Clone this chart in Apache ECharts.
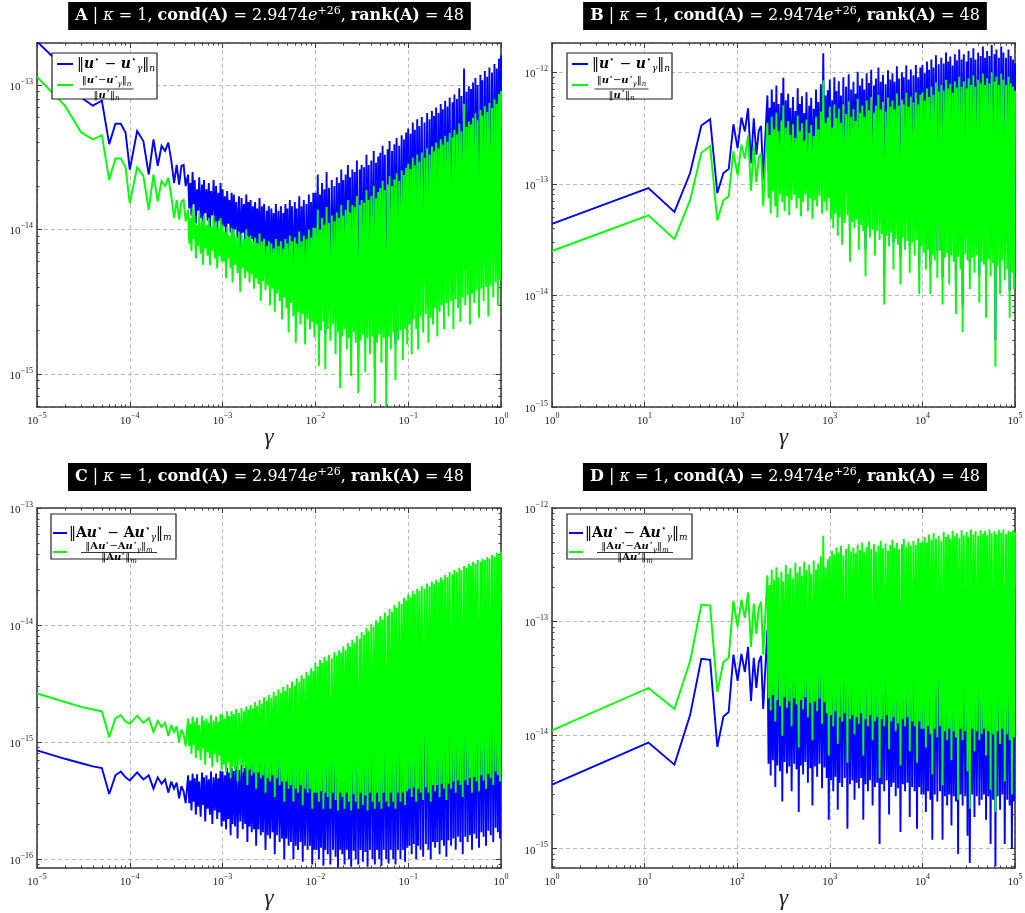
<!DOCTYPE html>
<html><head><meta charset="utf-8">
<script src="https://cdn.jsdelivr.net/npm/echarts@6/dist/echarts.min.js"></script>
<style>html,body{margin:0;padding:0;background:#fff}#c{width:1025px;height:913px}</style>
</head><body><div id="c"></div>
<script>
// ---------------- DATA ----------------
const U = 1e-15;   // all series values below are in units of 1e-15
const GA = 1e-5;   // gamma unit for panels A and C
// R80 preferred-number mantissas: sample positions inside each decade of the dense part
const R80 = [1.00,1.03,1.06,1.09,1.12,1.15,1.18,1.22,1.25,1.28,1.32,1.36,1.40,1.45,1.50,1.55,1.60,1.65,1.70,1.75,1.80,1.85,1.90,1.95,
 2.00,2.06,2.12,2.18,2.24,2.30,2.36,2.43,2.50,2.58,2.65,2.72,2.80,2.90,3.00,3.07,3.15,3.25,3.35,3.45,3.55,3.65,3.75,3.87,
 4.00,4.12,4.25,4.37,4.50,4.62,4.75,4.87,5.00,5.15,5.30,5.45,5.60,5.80,6.00,6.15,6.30,6.50,6.70,6.90,7.10,7.30,7.50,7.75,
 8.00,8.25,8.50,8.75,9.00,9.25,9.50,9.75];
const AC_gamma_sparse = [1,2,3,4,5,6,7,8,9,10,12,14,16,18,20,22,24,26,28,30,32,34,36,38,40];
const BD_gamma_sparse = [1,11,21,31,41,51,61,71,81,91,101,111,121,131,141,151,161,171,181,191,201];

const A_blue = [200,130,82,72,78,39,54,54,47,26,48,41,24,42,27.6,38,35,40,30,21,28,20.5,27.6,28,20,
 24,14,21,12.5,25,15,22,11,19,13.5,23,12,20.5,10,22,13,19,11.5,21,10,18.5,12.5,22,11,20,9.5,18,11.5,21,10.5,
 19,10.5,17,8,18.5,11,16,9.5,18,7.5,17.5,10,15.5,8.8,17,6.5,16.5,9.5,15,8,17.5,9,
 15.5,7.5,16,8.6,14.5,6.8,15.5,8,14,7.4,16.5,5.6,14.5,7.8,15,6.6,
 13.5,7.2,14.5,5.2,14,6.8,13,4.8,15,6.4,13.5,5.6,14.5,4.2,13,6.0,15,5.0,
 14,3.4,16,5.4,14.5,4.4,15.5,2.9,14,4.8,17,3.8,14.5,4.6,16,2.8,
 15,4.2,17.5,3.6,15.5,4.0,18,3.2,
 18,3.8,24,2.0,17.5,3.5,21,4.0,19,1.9,25,3.6,19.5,3.0,22,3.8,20,2.4,23,3.4,21,1.4,
 26,3.2,22,3.6,24,2.6,28,3.1,23,1.7,26,3.4,25,2.9,30,1.3,
 26,3.0,28,3.3,27,1.8,33,3.1,28,2.4,30,3.2,35,1.1,29,2.9,32,3.3,
 34,2.1,38,3.1,33,1.05,36,3.2,41,2.6,35,3.4,39,1.6,43,3.0,
 38,3.5,45,2.2,42,3.6,47,2.8,
 50,3.9,46,2.4,55,4.2,49,3.6,58,2.6,52,4.4,60,3.4,55,4.6,64,2.9,58,4.3,66,3.8,
 61,5.0,70,3.2,64,4.8,74,5.2,68,3.6,78,5.4,71,4.4,82,5.6,
 76,3.6,86,5.8,80,5.0,95,4.0,84,6.0,130,5.2,90,6.2,98,3.9,94,6.4,
 104,5.4,112,6.6,100,4.3,118,6.8,108,5.6,125,7.0,114,4.4,132,7.2,
 122,5.9,140,7.6,130,5.3,152,7.9,
 160];
const A_green = [114,72,47,42,45,22,31,31,27,15.2,27,23.5,13.7,24,15.7,21.7,20,22.8,17,12,16,11.7,15.7,16,11.4,
 13.7,8.0,12.0,7.1,14.3,8.6,12.5,6.3,10.8,7.7,13.1,6.8,11.7,5.7,12.5,7.4,10.8,6.6,12.0,5.7,10.5,7.1,12.5,6.3,11.4,5.4,10.3,6.6,12.0,6.0,
 10.8,6.0,9.7,4.6,10.5,6.3,9.1,5.4,10.3,4.3,10.0,5.7,8.8,5.0,9.7,3.7,9.4,5.4,8.6,4.6,10.0,5.1,
 8.8,4.3,9.1,4.9,8.3,3.9,8.8,4.6,8.0,4.2,9.4,3.2,8.3,4.4,8.6,3.8,
 7.7,4.1,8.3,3.0,8.0,3.9,7.4,2.7,8.6,3.6,7.7,3.2,8.3,2.4,7.4,3.4,8.6,2.85,
 8.0,1.94,9.1,3.1,8.3,2.5,8.8,1.65,8.0,2.7,9.7,2.2,8.3,2.6,9.1,1.6,
 8.6,2.4,10.0,2.05,8.8,2.3,10.3,1.8,
 10.3,2.2,13.7,1.14,10.0,2.0,12.0,2.3,10.8,1.08,14.3,2.05,11.1,1.7,12.5,2.2,11.4,1.37,13.1,1.94,12.0,0.8,
 14.8,1.82,12.5,2.05,13.7,1.48,16.0,1.77,13.1,0.97,14.8,1.94,14.3,1.65,17.1,0.74,
 14.8,1.71,16.0,1.88,15.4,1.03,18.8,1.77,16.0,1.37,17.1,1.82,20.0,0.63,16.5,1.65,18.2,1.88,
 19.4,1.2,21.7,1.77,18.8,0.6,20.5,1.82,23.4,1.48,20.0,1.94,22.2,0.91,24.5,1.71,
 21.7,2.0,25.7,1.25,23.9,2.05,26.8,1.6,
 28.5,2.2,26.2,1.37,31.4,2.4,27.9,2.05,33.1,1.48,29.6,2.5,34.2,1.94,31.4,2.6,36.5,1.65,33.1,2.45,37.6,2.2,
 34.8,2.85,39.9,1.82,36.5,2.7,42.2,3.0,38.8,2.05,44.5,3.1,40.5,2.5,46.7,3.2,
 43.3,2.05,49.0,3.3,45.6,2.85,54.2,2.3,47.9,3.4,74.1,3.0,51.3,3.5,55.9,2.2,53.6,3.6,
 59.3,3.1,63.8,3.8,57.0,2.45,67.3,3.9,61.6,3.2,71.3,4.0,65.0,2.5,75.2,4.1,
 69.5,3.4,79.8,4.3,74.1,3.0,86.6,4.5,
 91];

const B_blue = [43.8,91.6,56,125,333,380,82.6,125,135.5,342,209,393,295,475,153,387,182,300,330,110,260,
 620,130,480,95,700,150,540,110,760,88,520,140,650,120,890,100,560,135,640,92,480,125,600,140,450,105,720,130,520,90,610,120,430,140,660,100,500,130,590,85,470,125,700,110,540,135,780,95,1480,120,620,100,690,130,
 860,85,560,70,900,95,680,60,830,88,620,50,900,78,740,92,960,35,700,80,820,70,
 640,84,1010,45,760,75,880,66,700,26,980,72,800,58,1050,68,
 760,40,880,66,1100,55,820,62,950,14.5,780,60,1040,48,860,64,980,30,
 820,56,1130,50,880,22,1000,58,900,45,1150,54,860,28,1060,52,
 940,40,1160,55,900,18,1100,48,
 1160,42,980,30,1250,45,1050,18,1300,40,1100,36,1420,25,1180,44,1350,14.5,1200,38,1500,42,
 1250,22,1380,40,1150,35,1450,12,1280,39,1600,30,1300,8.2,1450,41,
 1250,36,1550,20,1350,38,1640,28,1300,40,1500,15,1400,35,1700,33,1350,11,
 1550,37,1400,26,1750,34,1450,4.0,1600,32,1350,18,1700,36,1500,24,
 1350,30,1600,11,1400,28,1300,20,
 1200];
const B_green = [25,52.2,31.9,71.3,190,217,47.1,71.3,77.2,195,119,224,168,271,87,221,104,171,188,63,148,
 353,74,274,54,399,85.5,308,62.7,433,50,296,80,370,68.4,507,57,319,77,365,52.4,274,71.3,342,80,257,60,410,74,296,51.3,348,68.4,245,80,376,57,285,74,336,48.5,268,71.3,399,62.7,308,77,445,54,844,68.4,353,57,393,74,
 490,48.5,319,40,513,54,388,34.2,473,50,353,28.5,513,44.5,422,52.4,547,20,399,45.6,467,40,
 365,47.9,576,25.7,433,42.8,502,37.6,399,14.8,559,41,456,33,599,38.8,
 433,22.8,502,37.6,627,31.4,467,35.3,542,8.3,445,34.2,593,27.4,490,36.5,559,17.1,
 467,31.9,644,28.5,502,12.5,570,33,513,25.7,656,30.8,490,16,604,29.6,
 536,22.8,661,31.4,513,10.3,627,27.4,
 661,24,559,17.1,713,25.7,599,10.3,741,22.8,627,20.5,809,14.3,673,25.1,770,8.3,684,21.7,855,24,
 713,12.5,787,22.8,656,20,827,6.8,730,22.2,912,17.1,741,4.7,827,23.4,
 713,20.5,884,11.4,770,21.7,935,16,741,22.8,855,8.6,798,20,969,18.8,770,6.3,
 884,21.1,798,14.8,998,19.4,827,2.3,912,18.2,770,10.3,969,20.5,855,13.7,
 770,17.1,912,6.3,798,16,741,11.4,
 684];

const C_blue = [0.85,0.72,0.66,0.62,0.60,0.36,0.52,0.56,0.50,0.47,0.55,0.48,0.52,0.40,0.50,0.44,0.48,0.37,0.46,0.40,0.45,0.33,0.42,0.38,0.30,
 0.52,0.30,0.47,0.26,0.54,0.31,0.49,0.24,0.53,0.28,0.46,0.23,0.55,0.29,0.5,0.21,0.52,0.27,0.48,0.24,0.56,0.2,0.5,0.26,0.54,0.22,0.49,0.25,0.57,0.19,
 .56,.21,.52,.18,.6,.22,.55,.16,.6,.2,.57,.19,.63,.15,.58,.21,.64,.18,.6,.2,.66,.14,
 .62,.19,.68,.17,.64,.18,.72,.13,.67,.18,.75,.16,.7,.17,.79,.12,
 .74,.16,.83,.15,.78,.17,.88,.11,.82,.16,.92,.14,.86,.15,.97,.1,.9,.15,
 1.02,.13,.95,.14,1.08,.1,1.0,.13,1.15,.12,1.07,.14,1.22,.095,1.14,.13,
 1.3,.12,1.22,.13,1.4,.09,1.32,.12,
 1.55,.12,1.45,.1,1.65,.125,1.55,.088,1.75,.12,1.62,.11,1.82,.09,1.7,.12,1.92,.105,1.8,.085,2.0,.12,
 1.9,.11,2.15,.09,2.0,.12,2.3,.1,2.15,.086,2.45,.118,2.3,.1,2.65,.09,
 2.5,.12,2.85,.095,2.7,.115,3.1,.086,2.9,.12,3.35,.1,3.15,.09,3.6,.12,3.4,.1,
 3.9,.088,3.65,.12,4.2,.1,3.95,.092,4.5,.12,4.25,.1,4.85,.09,4.6,.12,
 5.2,.1,4.95,.12,5.6,.095,5.3,.125,
 6.0,.13,5.7,.11,6.4,.135,6.0,.1,6.7,.13,6.4,.12,7.0,.105,6.7,.135,7.4,.12,7.0,.1,7.7,.14,
 7.3,.125,8.0,.14,7.6,.11,8.4,.145,8.0,.13,8.8,.105,8.4,.145,9.3,.13,
 8.9,.15,9.7,.12,9.3,.155,10.1,.14,9.7,.11,10.5,.155,10.1,.14,11.0,.16,10.5,.12,
 11.4,.165,11.0,.15,11.8,.125,11.4,.17,12.1,.155,11.8,.13,12.5,.175,12.1,.16,
 13.0,.14,12.6,.185,13.6,.17,13.0,.15,
 14];
const C_green = [2.6,2.2,2.0,1.9,1.83,1.1,1.6,1.7,1.5,1.43,1.68,1.46,1.6,1.22,1.52,1.34,1.46,1.13,1.4,1.22,1.37,1.0,1.28,1.16,0.92,
 1.59,0.92,1.43,0.79,1.65,0.95,1.49,0.73,1.62,0.85,1.4,0.7,1.68,0.88,1.53,0.64,1.59,0.82,1.46,0.73,1.71,0.61,1.53,0.79,1.65,0.67,1.49,0.76,1.74,0.58,
 1.71,.64,1.59,.55,1.83,.67,1.68,.49,1.83,.61,1.74,.58,1.92,.46,1.77,.64,1.95,.55,1.83,.61,2.01,.43,
 1.89,.58,2.07,.52,1.95,.55,2.2,.4,2.04,.55,2.29,.49,2.14,.52,2.41,.37,
 2.26,.49,2.53,.46,2.38,.52,2.68,.34,2.5,.49,2.81,.43,2.62,.46,2.96,.31,2.75,.46,
 3.11,.4,2.9,.43,3.29,.31,3.05,.4,3.51,.37,3.26,.43,3.72,.29,3.48,.4,
 3.97,.37,3.72,.4,4.27,.27,4.03,.37,
 4.73,.37,4.42,.31,5.03,.38,4.73,.27,5.34,.37,4.94,.34,5.55,.27,5.19,.37,5.86,.32,5.49,.26,6.1,.37,
 5.8,.34,6.56,.27,6.1,.37,7.02,.31,6.56,.26,7.47,.36,7.02,.31,8.08,.27,
 7.63,.37,8.69,.29,8.24,.35,9.46,.26,8.85,.37,10.2,.31,9.61,.27,11.0,.37,10.4,.31,
 11.9,.27,11.1,.37,12.8,.31,12.0,.28,13.7,.37,13.0,.31,14.8,.27,14.0,.37,
 15.9,.31,15.1,.37,17.1,.29,16.2,.38,
 18.3,.4,17.4,.34,19.5,.41,18.3,.31,20.4,.4,19.5,.37,21.4,.32,20.4,.41,22.6,.37,21.4,.31,23.5,.43,
 22.3,.38,24.4,.43,23.2,.34,25.6,.44,24.4,.4,26.8,.32,25.6,.44,28.4,.4,
 27.1,.46,29.6,.37,28.4,.47,30.8,.43,29.6,.34,32.0,.47,30.8,.43,33.6,.49,32.0,.37,
 34.8,.5,33.6,.46,36.0,.38,34.8,.52,36.9,.47,36.0,.4,38.1,.53,36.9,.49,
 39.7,.43,38.4,.56,41.5,.52,39.7,.46,
 42.7];

const D_blue = [3.66,8.6,5.5,15,47,46,7.9,14.6,16,51,30,52,36,60,20,48,26,44,50,17,38,
 85,5.6,70,4.4,95,6.0,78,3.5,100,5.4,82,4.8,92,2.6,75,5.8,105,4.6,88,5.3,98,3.2,80,5.6,110,5.0,90,2.1,102,5.4,84,4.5,112,5.8,95,3.8,106,5.1,88,2.4,115,5.3,96,4.3,108,5.6,125,3.4,190,5.2,100,4.2,118,1.8,
 125,4.0,140,3.2,130,4.3,150,2.2,135,3.8,155,3.5,128,4.2,145,1.5,160,3.7,138,4.0,150,2.7,
 133,3.8,158,3.4,142,4.2,165,1.8,136,3.7,152,3.2,170,4.0,145,2.4,
 160,3.5,138,3.8,155,1.1,172,3.7,148,3.2,162,4.0,140,2.0,158,3.5,175,3.8,
 150,2.9,165,3.4,145,1.4,160,3.7,178,3.2,152,3.8,168,1.9,155,3.5,
 172,3.2,158,1.5,180,3.5,165,3.0,
 170,3.0,185,2.1,165,3.2,195,2.7,175,1.2,200,3.0,180,2.6,190,3.2,172,1.2,205,2.9,
 185,2.4,195,3.0,178,1.6,210,2.9,188,2.6,200,0.9,182,3.0,212,2.4,192,2.9,205,1.3,
 186,0.75,215,3.0,195,1.9,208,2.9,190,2.4,212,2.7,198,3.0,210,1.8,192,2.9,215,1.1,
 200,2.7,208,0.7,195,2.9,213,2.2,202,3.0,215,1.1,198,2.7,210,2.4,205,1.0,212,2.6,
 205];
const D_green = [11,26,17,45,141,138,24,44,48,153,90,156,108,180,60,144,78,132,150,51,114,
 255,21,210,16.5,285,22.5,234,13.2,300,20.4,246,18,276,9.9,225,21.6,315,17.4,264,19.8,294,12,240,21,330,18.6,270,7.8,306,20.4,252,16.8,336,21.6,285,14.4,318,19.2,264,9,345,19.8,288,16.2,324,21,375,12.6,570,19.5,300,15.6,354,6.6,
 375,15,420,12,390,16.2,450,8.4,405,14.4,465,13.2,384,15.6,435,5.7,480,13.8,414,15,450,10.2,
 399,14.4,474,12.6,426,15.6,495,6.6,408,13.8,456,12,510,15,435,9,
 480,13.2,414,14.4,465,4.2,516,13.8,444,12,486,15,420,7.5,474,13.2,525,14.4,
 450,10.8,495,12.6,435,5.4,480,13.8,534,12,456,14.4,504,7.2,465,13.2,
 516,12,474,5.7,540,13.2,495,11.4,
 510,11.4,555,7.8,495,12,585,10.2,525,4.5,600,11.4,540,9.6,570,12,516,3.6,615,10.8,
 555,9,585,11.4,534,6,630,10.8,564,9.6,600,2.7,546,11.4,636,9,576,10.8,615,4.8,
 558,2.25,645,11.4,585,7.2,624,10.8,570,9,636,10.2,594,11.4,630,6.6,576,10.8,645,3.3,
 600,10.2,624,2.1,585,10.8,639,8.4,606,11.4,645,3.9,594,10.2,630,9,615,3,636,9.6,
 615];

const TITLE_LETTERS = ['A','B','C','D'];
const MINOR_M = [2,3,4,5,6,7,8,9];

// ---------------- BUILD ----------------
const AC_gamma = [...AC_gamma_sparse, ...R80.slice(50).map(m=>m*10), ...R80.map(m=>m*100), ...R80.map(m=>m*1000), ...R80.map(m=>m*10000), 100000].map(v=>v*GA);
const BD_gamma = [...BD_gamma_sparse, ...R80.slice(26).map(m=>m*100), ...R80.map(m=>m*1000), ...R80.map(m=>m*10000), 100000];

function pts(xs, ys){ const n=Math.min(xs.length,ys.length); const o=[]; for(let i=0;i<n;i++) o.push([xs[i], ys[i]*U]); return o; }

const FONT = "'Liberation Serif','DejaVu Serif',serif";
const DFONT = "'DejaVu Serif',serif";
const FRAME = '#3c3c3c';
const BLUE = '#0000ff', GREEN = '#00ff00';
const LW = 1.9;

function tickFmt(v){ const e=Math.round(Math.log10(v)); return '{b|10}{e|'+(e<0?'\u2212'+(-e):e)+'}'; }
const tickRich = {
  b:{fontFamily:FONT,fontSize:11,color:'#222',lineHeight:15,verticalAlign:'bottom'},
  e:{fontFamily:FONT,fontSize:8,color:'#222',lineHeight:9,verticalAlign:'top'}
};
function minorTicks(d0,d1){ const o=[]; for(let d=d0; d<=d1; d++) for(const m of MINOR_M) o.push(m*Math.pow(10,d)); return o; }

const panels = [
  {grid:{left:37,top:43,width:464,height:364}, x:[1e-5,1], y:[5.92e-16,1.954e-13], hideMin:true, hideMax:true, xm:[-5,-1], ym:[-16,-13], gam:AC_gamma, blue:A_blue, green:A_green},
  {grid:{left:552,top:43,width:463,height:364}, x:[1,1e5], y:[1e-15,1.828e-12], hideMin:false, hideMax:true, xm:[0,4], ym:[-15,-12], gam:BD_gamma, blue:B_blue, green:B_green},
  {grid:{left:37,top:508,width:464,height:360}, x:[1e-5,1], y:[8.4e-17,1e-13], hideMin:true, hideMax:false, xm:[-5,-1], ym:[-17,-14], gam:AC_gamma, blue:C_blue, green:C_green},
  {grid:{left:552,top:508,width:463,height:360}, x:[1,1e5], y:[6.76e-16,1e-12], hideMin:true, hideMax:false, xm:[0,4], ym:[-16,-13], gam:BD_gamma, blue:D_blue, green:D_green}
];

const grids=[], xAxes=[], yAxes=[], series=[];
panels.forEach((p,g)=>{
  grids.push(Object.assign({containLabel:false, outerBoundsMode:'none'}, p.grid));
  const xb = {gridIndex:g, type:'log', logBase:10, min:p.x[0], max:p.x[1]};
  const yb = {gridIndex:g, type:'log', logBase:10, min:p.y[0], max:p.y[1]};
  const line = {show:true,onZero:false,lineStyle:{color:FRAME,width:1.6}};
  const maj = {show:true,inside:true,length:5,lineStyle:{color:FRAME,width:1}};
  const split = {show:true,lineStyle:{color:'#bcbcbc',type:[4,3],width:1}};
  const noLab = {show:false}, noSplit={show:false};
  const minX = {show:true,inside:true,length:2.5,customValues:minorTicks(p.xm[0],p.xm[1]),lineStyle:{color:FRAME,width:1}};
  const minY = {show:true,inside:true,length:2.5,customValues:minorTicks(p.ym[0],p.ym[1]),lineStyle:{color:FRAME,width:1}};
  xAxes.push(Object.assign({}, xb, {position:'bottom', axisLine:line, axisTick:maj,
    axisLabel:{show:true,formatter:tickFmt,rich:tickRich,margin:5}, splitLine:split,
    name:'\u03b3', nameLocation:'middle', nameGap:19, nameMoveOverlap:false,
    nameTextStyle:{fontFamily:FONT,fontStyle:'italic',fontSize:23,color:'#222'}}));
  xAxes.push(Object.assign({}, xb, {position:'top', axisLine:line, axisTick:maj, axisLabel:noLab, splitLine:noSplit}));
  xAxes.push(Object.assign({}, xb, {position:'bottom', axisLine:{show:false}, axisTick:minX, axisLabel:noLab, splitLine:noSplit}));
  xAxes.push(Object.assign({}, xb, {position:'top', axisLine:{show:false}, axisTick:minX, axisLabel:noLab, splitLine:noSplit}));
  yAxes.push(Object.assign({}, yb, {position:'left', axisLine:line, axisTick:maj,
    axisLabel:{show:true,formatter:tickFmt,rich:tickRich,margin:4,showMinLabel:!p.hideMin,showMaxLabel:!p.hideMax}, splitLine:split}));
  yAxes.push(Object.assign({}, yb, {position:'right', axisLine:line, axisTick:maj, axisLabel:noLab, splitLine:noSplit}));
  yAxes.push(Object.assign({}, yb, {position:'left', axisLine:{show:false}, axisTick:minY, axisLabel:noLab, splitLine:noSplit}));
  yAxes.push(Object.assign({}, yb, {position:'right', axisLine:{show:false}, axisTick:minY, axisLabel:noLab, splitLine:noSplit}));
  const common = {type:'line', xAxisIndex:4*g, yAxisIndex:4*g, showSymbol:false, symbol:'none', clip:true, animation:false};
  series.push(Object.assign({}, common, {name:'blue'+g, data:pts(p.gam,p.blue), z:2, lineStyle:{color:BLUE,width:LW,join:'miter',miterLimit:3}, itemStyle:{color:BLUE}}));
  series.push(Object.assign({}, common, {name:'green'+g, data:pts(p.gam,p.green), z:3, lineStyle:{color:GREEN,width:LW,join:'miter',miterLimit:3}, itemStyle:{color:GREEN}}));
});

// ---------------- TITLES & LEGENDS (layout only) ----------------
const graphic = [];
const titleRich = {
  b:{fontFamily:DFONT,fontSize:16,fontWeight:'bold',color:'#fff',lineHeight:20},
  i:{fontFamily:DFONT,fontSize:16,fontStyle:'italic',color:'#fff',lineHeight:20},
  s:{fontFamily:DFONT,fontSize:11,color:'#fff',lineHeight:10,verticalAlign:'top'}
};
[[269.5,2],[785,2],[269.5,463],[785,463]].forEach((t,k)=>{
  graphic.push({type:'text', x:t[0], y:t[1], z:200, style:{
    text:'{b|'+TITLE_LETTERS[k]+'} | {i|\u03ba} = 1, {b|cond(A)} = 2.9474{i|e}{s|+26}, {b|rank(A)} = 48',
    rich:titleRich, fontFamily:DFONT, fontSize:16, lineHeight:20, fill:'#fff',
    backgroundColor:'#000', padding:[4,7,4,7], align:'center', verticalAlign:'top', textAlign:'center', textVerticalAlign:'top'}});
});

function mkRich(big, small){
  return {
    n:{fontFamily:DFONT,fontSize:big,color:'#000',lineHeight:big+4},
    u:{fontFamily:DFONT,fontSize:big,fontWeight:'bold',fontStyle:'italic',color:'#000',lineHeight:big+4},
    A:{fontFamily:DFONT,fontSize:big,fontWeight:'bold',color:'#000',lineHeight:big+4},
    s:{fontFamily:DFONT,fontSize:small,color:'#000',lineHeight:small+1,verticalAlign:'top'},
    b:{fontFamily:DFONT,fontSize:small,fontStyle:'italic',color:'#000',lineHeight:small+1,verticalAlign:'bottom'}
  };
}
function addLegend(L){
  const el = [];
  el.push({type:'rect', shape:{x:L.x,y:L.y,width:L.w,height:L.h}, style:{fill:'#fff',stroke:'#222',lineWidth:1.2}});
  el.push({type:'line', shape:{x1:L.sx1,y1:L.r1,x2:L.sx2,y2:L.r1}, style:{stroke:BLUE,lineWidth:2}});
  el.push({type:'line', shape:{x1:L.sx1,y1:L.r2,x2:L.sx2,y2:L.r2}, style:{stroke:GREEN,lineWidth:2}});
  el.push({type:'text', x:L.tx, y:L.r1, style:{text:L.t1, rich:mkRich(L.f1,Math.round(L.f1*0.62)), align:'left', verticalAlign:'middle', textAlign:'left', textVerticalAlign:'middle', fill:'#000'}});
  el.push({type:'text', x:L.fc, y:L.ny, style:{text:L.num, rich:mkRich(L.f2,Math.round(L.f2*0.7)), align:'center', verticalAlign:'middle', textAlign:'center', textVerticalAlign:'middle', fill:'#000'}});
  el.push({type:'line', shape:{x1:L.fc-L.bw/2,y1:L.by,x2:L.fc+L.bw/2,y2:L.by}, style:{stroke:'#000',lineWidth:0.8}});
  el.push({type:'text', x:L.fc, y:L.dy, style:{text:L.den, rich:mkRich(L.f2,Math.round(L.f2*0.7)), align:'center', verticalAlign:'middle', textAlign:'center', textVerticalAlign:'middle', fill:'#000'}});
  el.forEach(e=>{e.z=150; graphic.push(e);});
}
const T_u  = '{n|\u2016}{u|u}{s|\u22c6}{n| \u2212 }{u|u}{s|\u22c6}{b|\u03b3}{n|\u2016}{b|n}';
const N_u  = '{n|\u2016}{u|u}{s|\u22c6}{n|\u2212}{u|u}{s|\u22c6}{b|\u03b3}{n|\u2016}{b|n}';
const D_u  = '{n|\u2016}{u|u}{s|\u22c6}{n|\u2016}{b|n}';
const T_Au = '{n|\u2016}{A|A}{u|u}{s|\u22c6}{n| \u2212 }{A|A}{u|u}{s|\u22c6}{b|\u03b3}{n|\u2016}{b|m}';
const N_Au = '{n|\u2016}{A|A}{u|u}{s|\u22c6}{n|\u2212}{A|A}{u|u}{s|\u22c6}{b|\u03b3}{n|\u2016}{b|m}';
const D_Au = '{n|\u2016}{A|A}{u|u}{s|\u22c6}{n|\u2016}{b|m}';
[0,515].forEach(dx=>addLegend({x:52+dx,y:53,w:105,h:46,sx1:57+dx,sx2:73+dx,r1:64,r2:85,tx:77+dx,t1:T_u,f1:14,
  fc:106.5+dx,ny:80.5,by:89,bw:54,dy:95,num:N_u,den:D_u,f2:10}));
[0,516].forEach(dx=>addLegend({x:51+dx,y:514,w:125,h:45,sx1:53+dx,sx2:67+dx,r1:533,r2:552,tx:69+dx,t1:T_Au,f1:14,
  fc:119+dx,ny:546.5,by:552.5,bw:76,dy:557.5,num:N_Au,den:D_Au,f2:10}));

const chart = echarts.init(document.getElementById('c'), null, {renderer:'canvas'});
chart.setOption({animation:false, backgroundColor:'#fff', grid:grids, xAxis:xAxes, yAxis:yAxes, series:series, graphic:graphic});
</script></body></html>
